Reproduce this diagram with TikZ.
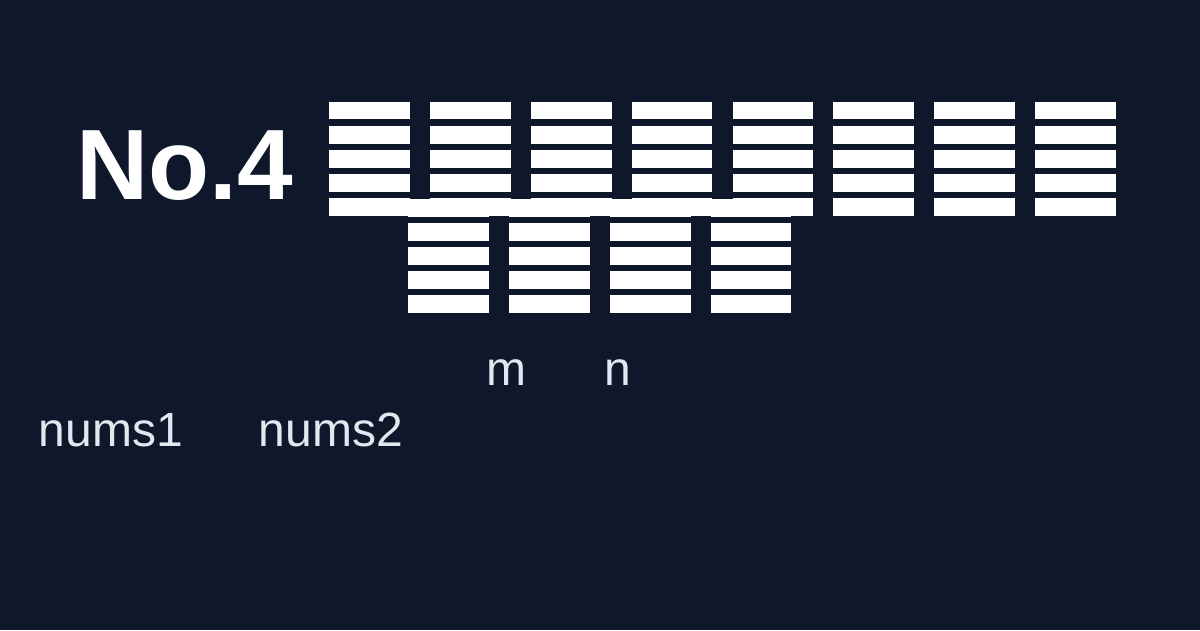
\documentclass[tikz,border=0pt]{standalone}
\usepackage{fontspec}
\setmainfont{Liberation Sans}
\usetikzlibrary{positioning}
\definecolor{slatebg}{HTML}{0F172A}
\definecolor{labelgrey}{HTML}{E2E8F0}
\tikzset{
    x=1pt, y=-1pt,
    glyphbar/.style={
        fill=white,
    },
    heading/.style={
        text=white,
        font=\fontsize{100}{100}\selectfont\bfseries,
        inner sep=0pt,
        anchor=base west,
    },
    varname/.style={
        text=labelgrey,
        font=\fontsize{48}{48}\selectfont,
        inner sep=0pt,
        anchor=base west,
    },
}

\begin{document}
\begin{tikzpicture}
    \fill[slatebg] (0,0) rectangle (1200,630);
    \useasboundingbox (0,0) rectangle (1200,630);

    \node[heading] (title) at (76,199) {No.4};

    % boxes of the title, first line
    \foreach \i in {0,...,7}{
        \foreach \j in {0,...,4}{
            \fill[glyphbar] ({329.3+100.8*\i},{101.7+24.1*\j})
                rectangle ++(80.7,17.7);
        }
    }
    % second line
    \foreach \i in {0,...,3}{
        \foreach \j in {0,...,4}{
            \fill[glyphbar] ({408.3+100.8*\i},{199+24.1*\j})
                rectangle ++(80.7,17.7);
        }
    }

    \node[varname] (m) at (486.5,385) {m};
    \node[varname] (n) at (604.5,385) {n};
    \node[varname] (nums1) at (38.5,446) {nums1};
    \node[varname] (nums2) at (258.5,446) {nums2};
\end{tikzpicture}
\end{document}
